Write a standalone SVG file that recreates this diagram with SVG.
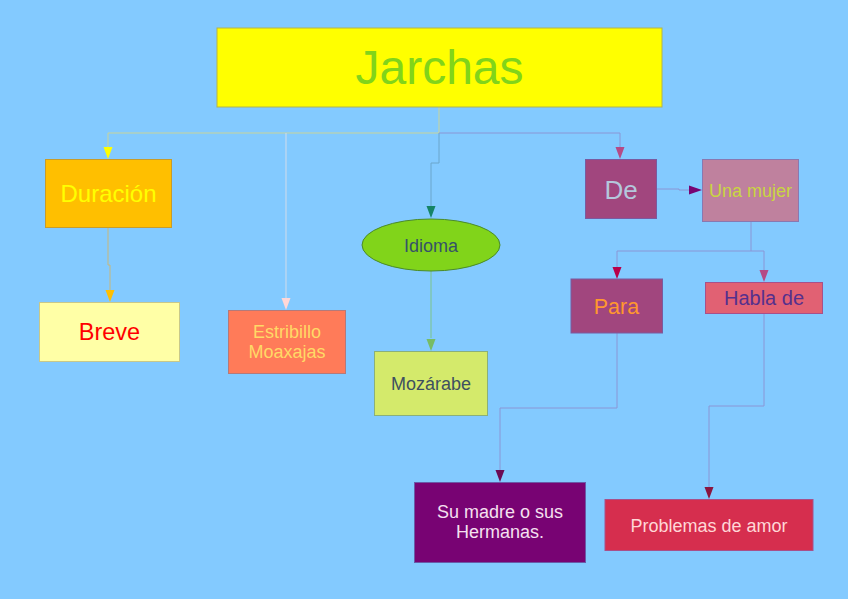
<svg xmlns="http://www.w3.org/2000/svg" width="848" height="599" viewBox="0 0 848 599">
<style>
text{font-family:"Liberation Sans",Arial,sans-serif;text-anchor:middle}
.ln{fill:none;stroke-width:1}
.bx{stroke-width:1}
</style>
<rect width="848" height="599" fill="#83caff"/>
<g id="connectors">
<path class="ln" d="M439 107V133H108V147" stroke="#c8d49a"/>
<path class="ln" d="M286 133V298" stroke="#d2dcea"/>
<path class="ln" d="M439 133V163H431V206" stroke="#6aa6cc"/>
<path class="ln" d="M439 133H620V147" stroke="#8a96d6"/>
<path class="ln" d="M108 227V265H110V290" stroke="#c8b77a"/>
<path class="ln" d="M431 271V338" stroke="#7cc48a"/>
<path class="ln" d="M657 189H679V190H690" stroke="#8a96d6"/>
<path class="ln" d="M751 222V251H617V267" stroke="#8a96d6"/>
<path class="ln" d="M751 251H764V270" stroke="#8a96d6"/>
<path class="ln" d="M617 333V408H500V470" stroke="#8a96d6"/>
<path class="ln" d="M764 314V406H709V487" stroke="#8a96d6"/>
<polygon points="103.5,147 112.5,147 108,159" fill="#ffff00"/>
<polygon points="281.5,298 290.5,298 286,310" fill="#ffd7d7"/>
<polygon points="426.5,206 435.5,206 431,218" fill="#158466"/>
<polygon points="615.5,147 624.5,147 620,159" fill="#b54a86"/>
<polygon points="105.5,290 114.5,290 110,302" fill="#ffbf00"/>
<polygon points="426.5,339 435.5,339 431,351" fill="#77bc65"/>
<polygon points="689,185.5 689,194.5 702,190" fill="#780373"/>
<polygon points="612.5,267 621.5,267 617,279" fill="#b8004a"/>
<polygon points="759.5,270 768.5,270 764,282" fill="#b54a86"/>
<polygon points="495.5,470 504.5,470 500,482" fill="#6b0a55"/>
<polygon points="704.5,487 713.5,487 709,499" fill="#8a1540"/>
</g>
<g id="jarchas">
<rect class="bx" x="217" y="28" width="445" height="79" fill="#ffff00" stroke="#b4b44a"/>
<text x="439.5" y="84" font-size="48" fill="#81d41a">Jarchas</text>
</g>
<g id="duracion">
<rect class="bx" x="45.5" y="159.5" width="126" height="68" fill="#ffbf00" stroke="#c89c2a"/>
<text x="108.5" y="201.5" font-size="24" fill="#ffff00">Duración</text>
</g>
<g id="breve">
<rect class="bx" x="39.5" y="302.5" width="140" height="59" fill="#ffffa6" stroke="#c8c88a"/>
<text x="109.5" y="339.5" font-size="23.5" fill="#ff0000">Breve</text>
</g>
<g id="estribillo">
<rect class="bx" x="228.5" y="310.5" width="117" height="63" fill="#ff7b59" stroke="#b47a7a"/>
<text x="287" y="338" font-size="18" fill="#ffd966">Estribillo</text>
<text x="287" y="358" font-size="18" fill="#ffd966">Moaxajas</text>
</g>
<g id="idioma">
<ellipse cx="431" cy="245" rx="69" ry="26" fill="#81d41a" stroke="#4a8a2a"/>
<text x="431" y="252" font-size="18" fill="#355269">Idioma</text>
</g>
<g id="mozarabe">
<rect class="bx" x="374.5" y="351.5" width="113" height="64" fill="#d4ea6b" stroke="#8ab07a"/>
<text x="431" y="390" font-size="18" fill="#3e5060">Mozárabe</text>
</g>
<g id="de">
<rect class="bx" x="585.5" y="159.5" width="71" height="59" fill="#a1467e" stroke="#7a5aa0"/>
<text x="621" y="199" font-size="26" fill="#b4c7dc">De</text>
</g>
<g id="unamujer">
<rect class="bx" x="702.5" y="159.5" width="96" height="62" fill="#bf819e" stroke="#8a78b0"/>
<text x="750.5" y="197" font-size="18" fill="#c9d641">Una mujer</text>
</g>
<g id="para">
<rect class="bx" x="571" y="279" width="91.5" height="54" fill="#a1467e" stroke="#7a5aa0"/>
<text x="616.5" y="314" font-size="21.5" fill="#ff972f">Para</text>
</g>
<g id="habla">
<rect class="bx" x="705.5" y="282.5" width="117" height="31" fill="#e16173" stroke="#a8508a"/>
<text x="764" y="305" font-size="20" fill="#55308d">Habla de</text>
</g>
<g id="sumadre">
<rect class="bx" x="414.5" y="482.5" width="171" height="80" fill="#780373" stroke="#6a5aa8"/>
<text x="500" y="518" font-size="18" fill="#f5e0f0">Su madre o sus</text>
<text x="500" y="538" font-size="18" fill="#f5e0f0">Hermanas.</text>
</g>
<g id="problemas">
<rect class="bx" x="605" y="499.5" width="208" height="51" fill="#d62e4e" stroke="#a8508a"/>
<text x="709" y="532" font-size="18" fill="#ffd7d7">Problemas de amor</text>
</g>
</svg>
